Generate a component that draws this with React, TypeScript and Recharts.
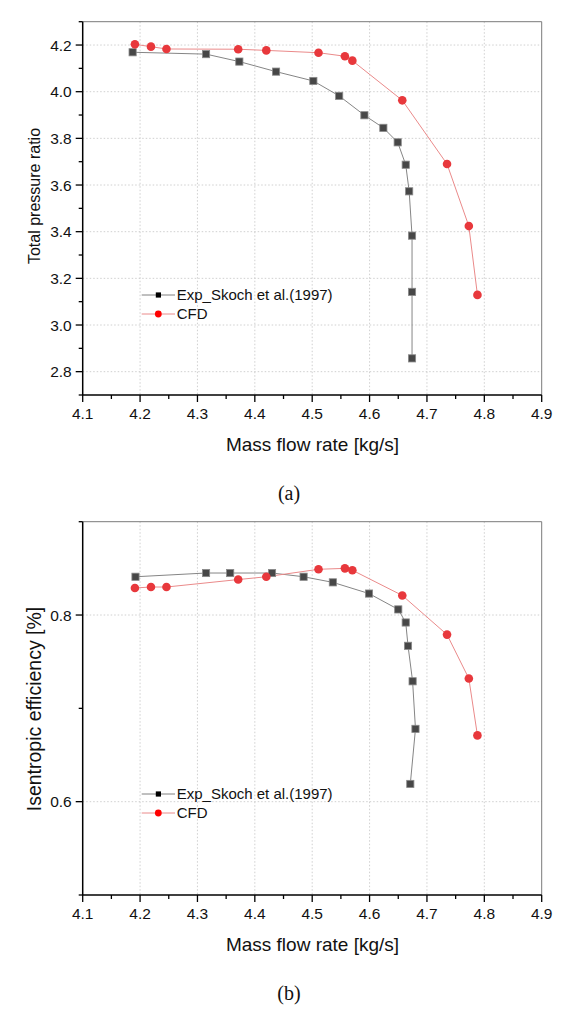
import React from 'react';
import { LineChart, Line, XAxis, YAxis, CartesianGrid, ReferenceLine, Legend } from 'recharts';

// ---------- data (a) ----------
const expFlowA = [4.187, 4.315, 4.373, 4.437, 4.502, 4.547, 4.591, 4.624, 4.649, 4.663, 4.669, 4.674, 4.674, 4.674];
const expRatio = [4.169, 4.161, 4.129, 4.086, 4.046, 3.982, 3.899, 3.845, 3.783, 3.687, 3.573, 3.383, 3.142, 2.857];
const cfdFlowA = [4.191, 4.219, 4.246, 4.371, 4.42, 4.511, 4.557, 4.57, 4.657, 4.735, 4.773, 4.788];
const cfdRatio = [4.203, 4.193, 4.183, 4.182, 4.177, 4.167, 4.152, 4.133, 3.963, 3.69, 3.424, 3.129];

// ---------- data (b) ----------
const expFlowB = [4.192, 4.315, 4.357, 4.43, 4.485, 4.536, 4.599, 4.65, 4.663, 4.667, 4.675, 4.68, 4.671];
const expEff = [0.841, 0.845, 0.845, 0.845, 0.841, 0.835, 0.823, 0.806, 0.792, 0.767, 0.729, 0.678, 0.619];
const cfdFlowB = [4.191, 4.219, 4.246, 4.371, 4.42, 4.511, 4.557, 4.57, 4.657, 4.735, 4.773, 4.788];
const cfdEff = [0.829, 0.83, 0.83, 0.838, 0.841, 0.849, 0.85, 0.848, 0.821, 0.779, 0.732, 0.671];

// ---------- ticks ----------
const xMajor = [4.1, 4.2, 4.3, 4.4, 4.5, 4.6, 4.7, 4.8, 4.9];
const xMinor = [4.15, 4.25, 4.35, 4.45, 4.55, 4.65, 4.75, 4.85];
const xGrid = [4.2, 4.3, 4.4, 4.5, 4.6, 4.7, 4.8];
const yMajorA = [2.8, 3.0, 3.2, 3.4, 3.6, 3.8, 4.0, 4.2];
const yMinorA = [2.7, 2.9, 3.1, 3.3, 3.5, 3.7, 3.9, 4.1, 4.3];
const yDomainA = [2.7, 4.3];
const yMajorB = [0.6, 0.8];
const yMinorB = [0.5, 0.7, 0.9];
const yDomainB = [0.5, 0.9];

const seriesNames = ['Exp_Skoch et al.(1997)', 'CFD'];
const xTitle = 'Mass flow rate [kg/s]';

const FONT = '"Liberation Sans", Arial, sans-serif';

const isMajor = (v: number, list: number[]) => list.some((m) => Math.abs(m - v) < 1e-6);
const sortTicks = (a: number[], b: number[]) => [...a, ...b].sort((p, q) => p - q);

const makeXTick = (major: number[]) => (props: any) => {
  const { x, y, payload } = props;
  const mj = isMajor(payload.value, major);
  return (
    <g>
      <line x1={x} x2={x} y1={y} y2={y + (mj ? 7 : 4)} stroke="#000" strokeWidth={1.3} />
      {mj && (
        <text x={x} y={y + 24} textAnchor="middle" fontSize={15.5} fontFamily={FONT} fill="#111">
          {Number(payload.value).toFixed(1)}
        </text>
      )}
    </g>
  );
};

const makeYTick = (major: number[]) => (props: any) => {
  const { x, y, payload } = props;
  const mj = isMajor(payload.value, major);
  return (
    <g>
      <line x1={x} x2={x - (mj ? 7 : 4)} y1={y} y2={y} stroke="#000" strokeWidth={1.3} />
      {mj && (
        <text x={x - 11} y={y + 5.5} textAnchor="end" fontSize={15.5} fontFamily={FONT} fill="#111">
          {Number(payload.value).toFixed(1)}
        </text>
      )}
    </g>
  );
};

const squareDot = (props: any) => {
  const { cx, cy, index } = props;
  if (cx == null || cy == null) return <g key={`s${index}`} />;
  return <rect key={`s${index}`} x={cx - 3.6} y={cy - 3.6} width={7.2} height={7.2} fill="#474747" stroke="#8a8a8a" strokeWidth={0.8} />;
};

const circleDot = (props: any) => {
  const { cx, cy, index } = props;
  if (cx == null || cy == null) return <g key={`c${index}`} />;
  return <circle key={`c${index}`} cx={cx} cy={cy} r={4.3} fill="#e8383c" />;
};

const legendContent = (props: any) => {
  const payload = [...(props.payload || [])].sort(
    (a: any, b: any) => seriesNames.indexOf(a.value) - seriesNames.indexOf(b.value)
  );
  return (
    <svg width={260} height={40} style={{ display: 'block' }}>
      {payload.map((entry: any, i: number) => {
        const cy = 12 + i * 19;
        const isExp = entry.value === seriesNames[0];
        return (
          <g key={i}>
            <line x1={3.7} x2={37} y1={cy} y2={cy} stroke={isExp ? '#808080' : '#ea8a8a'} strokeWidth={1} />
            {isExp ? (
              <rect x={17.8} y={cy - 2.6} width={5.2} height={5.2} fill="#000" />
            ) : (
              <circle cx={20.3} cy={cy} r={3.4} fill="#ff0000" />
            )}
            <text x={38.7} y={cy + 5.2} fontSize={15} fontFamily={FONT} fill="#111">
              {entry.value}
            </text>
          </g>
        );
      })}
    </svg>
  );
};

type PanelProps = {
  top: number;
  expX: number[];
  expY: number[];
  cfdX: number[];
  cfdY: number[];
  yDomain: number[];
  yMajor: number[];
  yMinor: number[];
  yTitle: string;
  yTitleSize: number;
  yTitleCenter: number;
  caption: string;
  legendTop: number;
};

const Panel = (p: PanelProps) => {
  const expData = p.expX.map((x, i) => ({ x, y: p.expY[i] }));
  const cfdData = p.cfdX.map((x, i) => ({ x, y: p.cfdY[i] }));
  const W = 564;
  const H = 510;
  return (
    <div style={{ position: 'absolute', left: 0, top: p.top, width: W, height: H }}>
      <LineChart width={W} height={H} margin={{ top: 21.7, right: 22.3, bottom: 85, left: 22.7 }}>
        <CartesianGrid
          stroke="#c4c4c4"
          strokeDasharray="1.5 2"
          strokeWidth={0.8}
          verticalValues={xGrid}
          horizontalValues={p.yMajor}
        />
        <XAxis
          type="number"
          dataKey="x"
          domain={[xMajor[0], xMajor[xMajor.length - 1]]}
          ticks={sortTicks(xMajor, xMinor)}
          interval={0}
          allowDataOverflow
          height={30}
          tickSize={0}
          tickMargin={0}
          tickLine={false}
          axisLine={{ stroke: '#000', strokeWidth: 1.5 }}
          tick={makeXTick(xMajor)}
        />
        <YAxis
          type="number"
          dataKey="y"
          domain={p.yDomain}
          ticks={sortTicks(p.yMajor, p.yMinor)}
          interval={0}
          allowDataOverflow
          width={60}
          tickSize={0}
          tickMargin={0}
          tickLine={false}
          axisLine={{ stroke: '#000', strokeWidth: 1.5 }}
          tick={makeYTick(p.yMajor)}
        />
        <ReferenceLine y={p.yDomain[1]} stroke="#7a7a7a" strokeWidth={1} />
        <ReferenceLine x={xMajor[xMajor.length - 1]} stroke="#7a7a7a" strokeWidth={1} />
        <Legend
          layout="vertical"
          align="center"
          verticalAlign="middle"
          wrapperStyle={{ left: 138, top: p.legendTop, width: 260, height: 40 }}
          content={legendContent}
        />
        <Line
          data={expData}
          dataKey="y"
          name={seriesNames[0]}
          type="linear"
          stroke="#858585"
          strokeWidth={1}
          dot={squareDot}
          activeDot={false}
          isAnimationActive={false}
        />
        <Line
          data={cfdData}
          dataKey="y"
          name={seriesNames[1]}
          type="linear"
          stroke="#ea8a8a"
          strokeWidth={1}
          dot={circleDot}
          activeDot={false}
          isAnimationActive={false}
        />
      </LineChart>
      <div
        style={{
          position: 'absolute',
          left: 35,
          top: p.yTitleCenter,
          transform: 'translate(-50%, -50%) rotate(-90deg)',
          whiteSpace: 'nowrap',
          fontFamily: FONT,
          fontSize: p.yTitleSize,
          color: '#111',
          lineHeight: 1,
        }}
      >
        {p.yTitle}
      </div>
      <div
        style={{
          position: 'absolute',
          left: 312.5,
          top: 444,
          transform: 'translate(-50%, -50%)',
          whiteSpace: 'nowrap',
          fontFamily: FONT,
          fontSize: 19,
          color: '#111',
          lineHeight: 1,
        }}
      >
        {xTitle}
      </div>
      <div
        style={{
          position: 'absolute',
          left: 289,
          top: 493,
          transform: 'translate(-50%, -50%)',
          whiteSpace: 'nowrap',
          fontFamily: '"Liberation Serif", "Times New Roman", serif',
          fontSize: 20,
          color: '#111',
          lineHeight: 1,
        }}
      >
        {p.caption}
      </div>
    </div>
  );
};

export default function App() {
  return (
    <div style={{ position: 'absolute', left: 0, top: 0, width: 564, height: 1014, background: '#fff', overflow: 'hidden' }}>
      <Panel
        top={0}
        expX={expFlowA}
        expY={expRatio}
        cfdX={cfdFlowA}
        cfdY={cfdRatio}
        yDomain={yDomainA}
        yMajor={yMajorA}
        yMinor={yMinorA}
        yTitle="Total pressure ratio"
        yTitleSize={16}
        yTitleCenter={196}
        caption="(a)"
        legendTop={283}
      />
      <Panel
        top={500}
        expX={expFlowB}
        expY={expEff}
        cfdX={cfdFlowB}
        cfdY={cfdEff}
        yDomain={yDomainB}
        yMajor={yMajorB}
        yMinor={yMinorB}
        yTitle="Isentropic efficiency [%]"
        yTitleSize={19.5}
        yTitleCenter={209}
        caption="(b)"
        legendTop={282.3}
      />
    </div>
  );
}
